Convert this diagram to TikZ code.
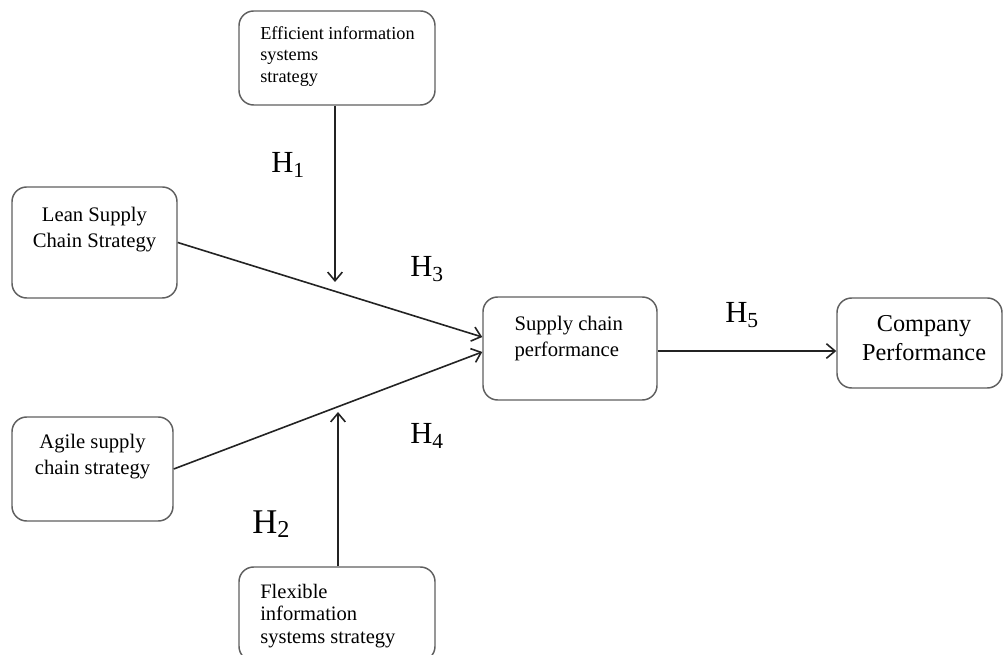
\documentclass[tikz,border=0pt]{standalone}
\usepackage{fontspec}
\setmainfont{Liberation Serif}
\usepackage{tikz}
\usetikzlibrary{arrows.meta, positioning}
\definecolor{boxgray}{RGB}{95,95,95}
\definecolor{linegray}{RGB}{35,35,35}

\begin{document}
\begin{tikzpicture}[x=0.75pt,y=-0.75pt,
    box/.style={rectangle,draw=boxgray,line width=1.1pt,rounded corners=11pt},
    arr/.style={-{Straight Barb[length=6.5pt,width=11pt]},line width=1.2pt,linegray},
    small/.style={inner sep=0pt,font=\fontsize{13.7}{16.3}\selectfont,align=left},
    mid/.style={inner sep=0pt,font=\fontsize{15.5}{19.5}\selectfont},
    hyp/.style={inner sep=0pt,anchor=base west,font=\fontsize{23}{26}\selectfont}]
    \useasboundingbox (0,0) rectangle (1003,655);

    % Efficient information systems strategy
    \node[box,minimum width=147pt,minimum height=70.5pt] (efficient) at (337,58) {};
    \node[small] (efficienttxt) at (efficient.north west) [anchor=north west,xshift=16.3pt,yshift=-11.8pt] {Efficient information\\systems\\strategy};

    % Lean supply chain strategy
    \node[box,minimum width=123.75pt,minimum height=83.25pt] (lean) at (94.5,242.5) {};
    \node[mid,align=center] (leantxt) at (lean.north) [below=15.4pt] {Lean Supply\\Chain Strategy};

    % Agile supply chain strategy
    \node[box,minimum width=120.75pt,minimum height=78pt] (agile) at (92.5,469) {};
    \node[mid,align=center] (agiletxt) at (agile.north) [below=13pt] {Agile supply\\chain strategy};

    % Flexible information systems strategy
    \node[box,minimum width=147pt,minimum height=70.5pt] (flexible) at (337,614) {};
    \node[small,font=\fontsize{15.4}{17}\selectfont] (flexibletxt) at (flexible.north west) [anchor=north west,xshift=16.3pt,yshift=-13.1pt] {Flexible\\information\\systems strategy};

    % Supply chain performance
    \node[box,minimum width=130.5pt,minimum height=77.25pt] (supply) at (570,348.5) {};
    \node[mid,align=left] (supplytxt) at (supply.north west) [anchor=north west,xshift=24pt,yshift=-14.5pt] {Supply chain\\performance};

    % Company performance
    \node[box,minimum width=123.75pt,minimum height=67.5pt] (company) at (919.5,343) {};
    \node[inner sep=0pt,align=center,font=\fontsize{18.2}{22}\selectfont] (companytxt) at (company.north) [below=13.5pt,xshift=3.4pt] {Company\\Performance};

    % Hypotheses
    \node[hyp] (h1) at (271,172.7) {H\textsubscript{1}};
    \node[hyp,font=\fontsize{26}{30}\selectfont] (h2) at (252,533) {H\textsubscript{2}};
    \node[hyp] (h3) at (410,276.7) {H\textsubscript{3}};
    \node[hyp] (h4) at (410,444) {H\textsubscript{4}};
    \node[hyp] (h5) at (725,322.3) {H\textsubscript{5}};

    % Connessioni
    \coordinate (h1end) at (335,282);
    \coordinate (h2end) at (338,412);
    \draw[arr] (lean.east) -- ([yshift=8.6pt]supply.west);
    \draw[arr] (agile.east) -- ([yshift=-2.6pt]supply.west);
    \draw[arr] (efficient.south -| h1end) -- (h1end);
    \draw[arr] (flexible.north -| h2end) -- (h2end);
    \draw[arr] ([yshift=-1.9pt]supply.east) -- ([yshift=-1.9pt]supply.east -| company.west);
\end{tikzpicture}
\end{document}
